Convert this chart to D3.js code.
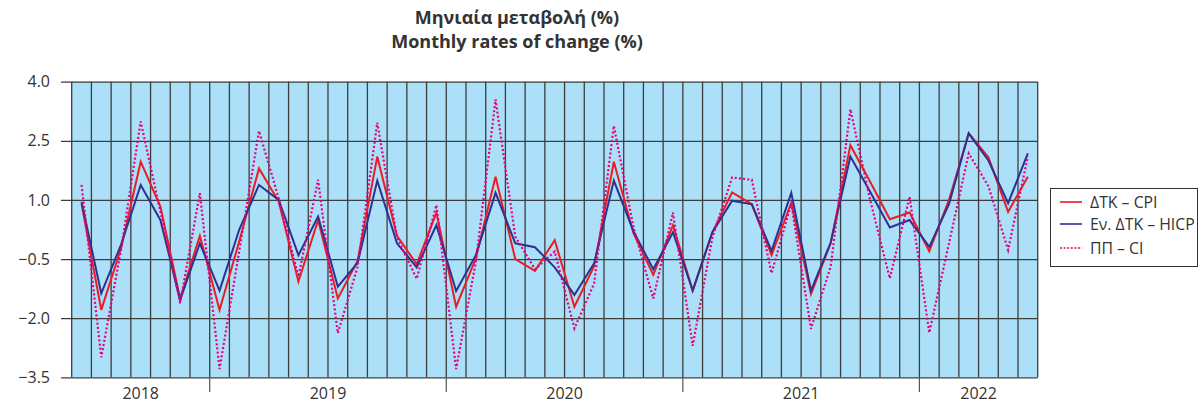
<!DOCTYPE html>
<html>
<head>
<meta charset="utf-8">
<script src="https://cdn.jsdelivr.net/npm/d3@7"></script>
<style>
  html, body { margin: 0; padding: 0; background: #ffffff; }
  svg { display: block; }
  text { font-family: "Open Sans", "Noto Sans", sans-serif; fill: #333333; }
</style>
</head>
<body>
<svg id="chart" width="1199" height="403"></svg>
<script>
// Monthly observations, June 2018 – June 2022
const months = [
  "2018-06","2018-07","2018-08","2018-09","2018-10","2018-11","2018-12",
  "2019-01","2019-02","2019-03","2019-04","2019-05","2019-06","2019-07","2019-08","2019-09","2019-10","2019-11","2019-12",
  "2020-01","2020-02","2020-03","2020-04","2020-05","2020-06","2020-07","2020-08","2020-09","2020-10","2020-11","2020-12",
  "2021-01","2021-02","2021-03","2021-04","2021-05","2021-06","2021-07","2021-08","2021-09","2021-10","2021-11","2021-12",
  "2022-01","2022-02","2022-03","2022-04","2022-05","2022-06"
];

// ΔΤΚ – CPI
const cpi = [
  0.90, -1.79, -0.23, 1.97, 0.83, -1.50, 0.09,
  -1.79, -0.05, 1.80, 0.96, -1.07, 0.49, -1.50, -0.55, 2.10, 0.09, -0.63, 0.68,
  -1.71, -0.48, 1.59, -0.50, -0.80, -0.02, -1.71, -0.68, 1.97, 0.15, -0.90, 0.36,
  -1.30, 0.18, 1.19, 0.89, -0.40, 0.93, -1.39, -0.10, 2.39, 1.46, 0.51, 0.68,
  -0.30, 1.00, 2.69, 2.08, 0.70, 1.59
];

// Εν. ΔΤΚ – HICP
const hicp = [
  0.95, -1.37, -0.14, 1.38, 0.49, -1.54, -0.10,
  -1.30, 0.25, 1.38, 1.00, -0.40, 0.58, -1.20, -0.60, 1.49, -0.10, -0.71, 0.36,
  -1.31, -0.40, 1.18, -0.10, -0.20, -0.71, -1.41, -0.61, 1.49, 0.20, -0.76, 0.18,
  -1.30, 0.18, 0.98, 0.89, -0.29, 1.18, -1.30, -0.08, 2.10, 1.21, 0.30, 0.49,
  -0.19, 0.89, 2.69, 2.00, 0.92, 2.18
];

// ΠΠ – CI
const ci = [
  1.38, -2.99, -0.27, 2.99, 0.70, -1.62, 1.17,
  -3.29, -0.30, 2.75, 1.04, -0.95, 1.51, -2.38, -0.70, 2.96, 0.05, -1.00, 0.87,
  -3.29, -0.57, 3.55, 0.07, -0.76, -0.31, -2.26, -1.12, 2.88, 0.30, -1.50, 0.68,
  -2.70, 0.05, 1.57, 1.51, -0.86, 0.91, -2.27, -0.69, 3.30, 1.00, -0.99, 1.08,
  -2.37, -0.10, 2.18, 1.35, -0.27, 2.10
];

const yTicks = [4.0, 2.5, 1.0, -0.5, -2.0, -3.5];
const years = ["2018", "2019", "2020", "2021", "2022"];

const titleLines = ["Μηνιαία μεταβολή (%)", "Monthly rates of change (%)"];
const seriesNames = ["ΔΤΚ – CPI", "Εν. ΔΤΚ – HICP", "ΠΠ – CI"];

const series = [
  { name: seriesNames[0], values: cpi,  color: "#ec1c24", width: 2,   dash: null },
  { name: seriesNames[1], values: hicp, color: "#2e3192", width: 2,   dash: null },
  { name: seriesNames[2], values: ci,   color: "#e6007e", width: 2.2, dash: "2,2.2" }
];

const svg = d3.select("#chart");

const plot = { left: 71.7, right: 1037.7, top: 81.7, bottom: 377.3 };

const x = d3.scaleBand()
  .domain(months)
  .range([plot.left, plot.right])
  .paddingInner(0).paddingOuter(0);

const y = d3.scaleLinear()
  .domain([-3.5, 4.0])
  .range([plot.bottom, plot.top]);

// Plot background
svg.append("rect")
  .attr("x", plot.left).attr("y", plot.top)
  .attr("width", plot.right - plot.left)
  .attr("height", plot.bottom - plot.top)
  .attr("fill", "#abe0f8");

// Vertical gridlines at month boundaries
const grid = svg.append("g").attr("stroke", "#3d3d3d").attr("stroke-width", 1.3);
months.forEach((m, i) => {
  if (i === 0) return;
  grid.append("line")
    .attr("x1", x(m)).attr("x2", x(m))
    .attr("y1", plot.top).attr("y2", plot.bottom);
});
grid.append("line")
  .attr("x1", plot.left).attr("x2", plot.left)
  .attr("y1", plot.top).attr("y2", plot.bottom);
grid.append("line")
  .attr("x1", plot.right).attr("x2", plot.right)
  .attr("y1", plot.top).attr("y2", plot.bottom);

// Horizontal gridlines, extended left as tick marks
const yAxis = d3.axisLeft(y)
  .tickValues(yTicks)
  .tickFormat(d3.format(".1f"))
  .tickSize(plot.right - 61)
  .tickPadding(11);

const gy = svg.append("g")
  .attr("transform", `translate(${plot.right},0)`)
  .call(yAxis);
gy.select(".domain").remove();
gy.selectAll(".tick line").attr("stroke", "#3d3d3d").attr("stroke-width", 1.3);
gy.selectAll(".tick text")
  .attr("font-family", "'Open Sans', sans-serif")
  .attr("font-size", 16)
  .attr("fill", "#333");

// Year separators and labels along the bottom
const yearOf = m => m.slice(0, 4);
const xAxisG = svg.append("g");
years.forEach((yr, k) => {
  const ms = months.filter(m => yearOf(m) === yr);
  const x0 = x(ms[0]);
  const x1 = x(ms[ms.length - 1]) + x.bandwidth();
  if (k > 0) {
    xAxisG.append("line")
      .attr("x1", x0).attr("x2", x0)
      .attr("y1", plot.bottom).attr("y2", 392)
      .attr("stroke", "#555").attr("stroke-width", 1.2);
  }
  xAxisG.append("text")
    .attr("x", (x0 + x1) / 2)
    .attr("y", 399)
    .attr("text-anchor", "middle")
    .attr("font-size", 16)
    .text(yr);
});

// Series lines
const line = d3.line()
  .x((d, i) => x(months[i]) + x.bandwidth() / 2)
  .y(d => y(d));

series.forEach(s => {
  svg.append("path")
    .datum(s.values)
    .attr("fill", "none")
    .attr("stroke", s.color)
    .attr("stroke-width", s.width)
    .attr("stroke-linejoin", "miter")
    .attr("stroke-dasharray", s.dash)
    .attr("d", line);
});

// Title: Greek line then English line
svg.append("g").selectAll("text")
  .data(titleLines)
  .join("text")
  .attr("x", 517)
  .attr("y", (d, i) => 24 + i * 24)
  .attr("text-anchor", "middle")
  .attr("font-family", "'Liberation Sans', Arial, sans-serif")
  .attr("font-size", 18)
  .attr("font-weight", "bold")
  .attr("fill", "#222")
  .text(d => d);

// Legend
const legend = svg.append("g");
legend.append("rect")
  .attr("x", 1050.5).attr("y", 188.5)
  .attr("width", 147).attr("height", 78)
  .attr("fill", "#fff")
  .attr("stroke", "#333").attr("stroke-width", 1);

const legendRows = [202, 224, 248];
series.forEach((s, i) => {
  const ly = legendRows[i];
  legend.append("line")
    .attr("x1", 1060).attr("x2", 1082)
    .attr("y1", ly).attr("y2", ly)
    .attr("stroke", s.color)
    .attr("stroke-width", 1.6)
    .attr("stroke-dasharray", s.dash ? "2,1.6" : null);
  legend.append("text")
    .attr("x", 1090)
    .attr("y", ly)
    .attr("dy", "0.35em")
    .attr("font-size", 15.8)
    .attr("fill", "#222")
    .text(s.name);
});
</script>
</body>
</html>
